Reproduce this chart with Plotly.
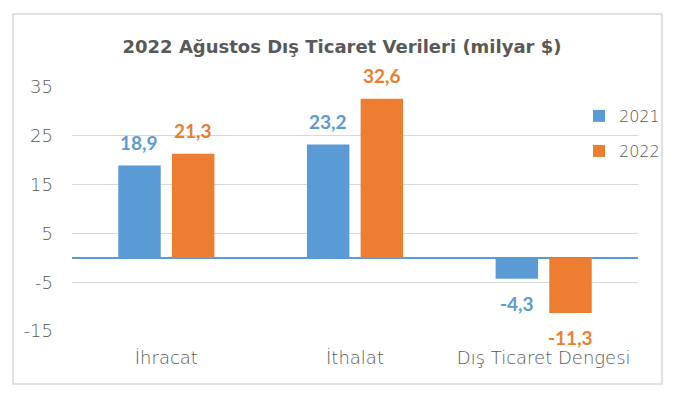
import plotly.graph_objects as go

categories = ["İhracat", "İthalat", "Dış Ticaret Dengesi"]
values_2021 = [18.9, 23.2, -4.3]
values_2022 = [21.3, 32.6, -11.3]
series_names = ["2021", "2022"]
y_ticks = [35, 25, 15, 5, -5, -15]
y_tick_labels = [str(t) for t in y_ticks]

BLUE = "#5B9BD5"
ORANGE = "#ED7D31"
GREY = "#595959"
THIN = dict(family="DejaVu Sans", size=18, color=GREY, weight=200)

W, H = 684, 399
ML, MR, MT, MB = 72, 46, 87, 68
PW, PH = W - ML - MR, H - MT - MB
XR = [-0.5, 2.5]
BARGAP = 0.431
cat_px = PW / (XR[1] - XR[0])
slot_px = (1 - BARGAP) / 2 * cat_px

def fmt(v):
    return f"{v:.1f}".replace(".", ",")

fig = go.Figure()
fig.add_trace(go.Bar(x=categories, y=values_2021, name=series_names[0],
                     marker=dict(color=BLUE, line=dict(width=0)),
                     legend="legend", showlegend=True))
fig.add_trace(go.Bar(x=categories, y=values_2022, name=series_names[1],
                     marker=dict(color=ORANGE, line=dict(width=0)),
                     legend="legend2", showlegend=True))

annotations = []
for vals, color, sgn in [(values_2021, BLUE, -1), (values_2022, ORANGE, 1)]:
    for c, v in zip(categories, vals):
        annotations.append(dict(
            x=c, y=v, xref="x", yref="y", text=f"<b>{fmt(v)}</b>",
            showarrow=False, xshift=sgn * slot_px / 2, yanchor="middle",
            yshift=23 if v >= 0 else -25,
            font=dict(family="Lato", size=19, color=color)))

def px_to_paper_x(p):
    return (p - ML) / PW

def px_to_paper_y(p):
    return (H - MB - p) / PH

fig.update_layout(
    width=W, height=H,
    margin=dict(l=ML, r=MR, t=MT, b=MB),
    paper_bgcolor="white", plot_bgcolor="white",
    showlegend=True,
    barmode="group", bargap=BARGAP, bargroupgap=0.209,
    title=dict(text="<b>2022 Ağustos Dış Ticaret Verileri (milyar $)</b>",
               x=0.5, xref="container", xanchor="center",
               y=1 - 46.5 / H, yref="container", yanchor="middle",
               font=dict(family="DejaVu Sans", size=18, color=GREY)),
    font=dict(family="DejaVu Sans", color=GREY),
    xaxis=dict(range=XR, showgrid=False, zeroline=False, showline=False,
               ticks="", ticklabelstandoff=14, tickfont=THIN),
    yaxis=dict(range=[-15, 35], tickvals=y_ticks, ticktext=y_tick_labels,
               showgrid=True, gridcolor="#d9d9d9", gridwidth=1.3,
               zeroline=True, zerolinecolor=BLUE, zerolinewidth=1.5,
               showline=False, ticks="", ticklabelstandoff=18, tickfont=THIN),
    legend=dict(x=px_to_paper_x(579), y=px_to_paper_y(116), xanchor="left",
                yanchor="middle", bgcolor="rgba(0,0,0,0)", visible=True,
                font=dict(THIN, size=16)),
    legend2=dict(x=px_to_paper_x(579), y=px_to_paper_y(151), xanchor="left",
                 yanchor="middle", bgcolor="rgba(0,0,0,0)", visible=True,
                 font=dict(THIN, size=16)),
    annotations=annotations,
    shapes=[dict(type="rect", xref="paper", yref="paper",
                 x0=px_to_paper_x(13), x1=px_to_paper_x(662),
                 y0=px_to_paper_y(384), y1=px_to_paper_y(14),
                 line=dict(color="#d9d9d9", width=1.5), fillcolor="rgba(0,0,0,0)",
                 layer="below")],
)

fig.write_html("out.html", config={"displayModeBar": False},
               post_script="document.body.style.margin='0';")
